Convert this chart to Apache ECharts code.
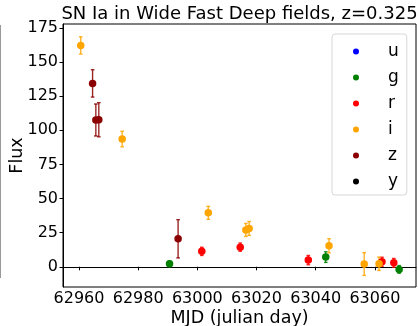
<!DOCTYPE html>
<html>
<head>
<meta charset="utf-8">
<script src="https://cdn.jsdelivr.net/npm/echarts@6/dist/echarts.min.js"></script>
<style>
  html, body { margin: 0; padding: 0; background: #fff; }
  #chart { width: 418px; height: 326px; }
</style>
</head>
<body>
<div id="chart"></div>
<script>
// light curve points per band: [mjd], [flux], [flux error]
const gMjd = [62990.6, 63043.4, 63068.2];
const gFlux = [2.2, 7.1, -1.9];
const gErr = [2.0, 3.9, 2.8];

const rMjd = [63001.5, 63014.5, 63037.5, 63062.4, 63066.4];
const rFlux = [11.3, 14.4, 4.9, 3.7, 2.9];
const rErr = [3.0, 3.0, 3.4, 3.3, 3.2];

const iMjd = [62960.6, 62974.6, 63003.7, 63016.4, 63017.5, 63044.5, 63056.4, 63061.4];
const iFlux = [162.1, 93.6, 39.5, 27.0, 28.1, 15.4, 2.0, 2.2];
const iErr = [6.3, 5.7, 4.75, 4.75, 5.1, 5.2, 8.3, 4.9];

const zMjd = [62964.6, 62965.7, 62966.7, 62993.5];
const zFlux = [134.3, 107.5, 107.7, 20.5];
const zErr = [10.0, 11.7, 12.5, 14.0];

const bandNames = ['u', 'g', 'r', 'i', 'z', 'y'];
const xTicks = [62960, 62980, 63000, 63020, 63040, 63060];
const yTicks = [0, 25, 50, 75, 100, 125, 150, 175];

const font = 'DejaVu Sans';
const colors = { u: '#0000ff', g: '#008000', r: '#ff0000', i: '#ffa500', z: '#8b0000', y: '#000000' };

function pts(mjd, flux, err) {
    return mjd.map((m, k) => [m, flux[k], err[k]]);
}

const bands = {
    u: [],
    g: pts(gMjd, gFlux, gErr),
    r: pts(rMjd, rFlux, rErr),
    i: pts(iMjd, iFlux, iErr),
    z: pts(zMjd, zFlux, zErr),
    y: []
};

function errorBar(params, api) {
    const x = api.value(0), y = api.value(1), e = api.value(2);
    const top = api.coord([x, y + e]);
    const bot = api.coord([x, y - e]);
    const cap = 1.8;
    const style = { stroke: api.visual('color'), lineWidth: 1.4, opacity: 0.85 };
    return {
        type: 'group',
        children: [
            { type: 'line', shape: { x1: top[0], y1: top[1], x2: bot[0], y2: bot[1] }, style },
            { type: 'line', shape: { x1: top[0] - cap, y1: top[1], x2: top[0] + cap, y2: top[1] }, style },
            { type: 'line', shape: { x1: bot[0] - cap, y1: bot[1], x2: bot[0] + cap, y2: bot[1] }, style }
        ]
    };
}

const series = [];
bandNames.forEach(b => {
    series.push({
        name: b,
        type: 'custom',
        renderItem: errorBar,
        data: bands[b],
        itemStyle: { color: colors[b] },
        encode: { x: 0, y: 1 },
        silent: true,
        z: 2
    });
});
bandNames.forEach(b => {
    series.push({
        name: b,
        type: 'scatter',
        data: bands[b].map(p => [p[0], p[1]]),
        symbol: 'circle',
        symbolSize: 7.5,
        itemStyle: { color: colors[b], opacity: 1 },
        z: 3
    });
});

const chart = echarts.init(document.getElementById('chart'));
chart.setOption({
    animation: false,
    backgroundColor: '#fff',
    title: {
        text: 'SN Ia in Wide Fast Deep fields, z=0.325',
        left: 239.5,
        textAlign: 'center',
        top: 5,
        padding: 0,
        textStyle: { fontFamily: font, fontSize: 18, fontWeight: 'normal', color: '#000' }
    },
    grid: {
        left: 63, right: 2, top: 24, bottom: 39,
        outerBoundsMode: 'none',
        containLabel: false,
        show: true, borderColor: '#000', borderWidth: 1
    },
    legend: {
        data: bandNames.map(b => ({ name: b, icon: 'circle', itemStyle: { color: colors[b] } })),
        orient: 'vertical',
        left: 332,
        top: 34,
        itemWidth: 6,
        itemHeight: 6,
        itemGap: 7,
        padding: [8, 8, 4, 21],
        borderColor: '#d8d8d8',
        borderWidth: 1,
        borderRadius: 3,
        backgroundColor: '#fff',
        textStyle: { fontFamily: font, fontSize: 17, color: '#000', padding: [0, 0, 0, 24], lineHeight: 19 }
    },
    xAxis: {
        type: 'value',
        min: 62954.6,
        max: 63073.9,
        name: 'MJD (julian day)',
        nameLocation: 'middle',
        nameGap: 22,
        nameMoveOverlap: false,
        nameTextStyle: { fontFamily: font, fontSize: 17.5, color: '#000' },
        axisLine: { lineStyle: { color: '#000' } },
        axisTick: { show: true, length: 3.5, lineStyle: { color: '#000' }, customValues: xTicks },
        axisLabel: {
            fontFamily: font, fontSize: 16, color: '#000', margin: 4, customValues: xTicks,
            formatter: v => String(v)
        },
        splitLine: { show: false }
    },
    yAxis: {
        type: 'value',
        min: -14.8,
        max: 177.8,
        name: 'Flux',
        nameLocation: 'middle',
        nameGap: 37,
        nameMoveOverlap: false,
        nameTextStyle: { fontFamily: font, fontSize: 17.5, color: '#000' },
        axisLine: { show: true, lineStyle: { color: '#000' } },
        axisTick: { show: true, length: 3.5, lineStyle: { color: '#000' }, customValues: yTicks },
        axisLabel: { fontFamily: font, fontSize: 16, color: '#000', margin: 5, customValues: yTicks },
        splitLine: { show: false }
    },
    graphic: [{
        type: 'line',
        shape: { x1: 0.5, y1: 25, x2: 0.5, y2: 278 },
        style: { stroke: '#999', lineWidth: 1 }
    }],
    series
});
</script>
</body>
</html>
